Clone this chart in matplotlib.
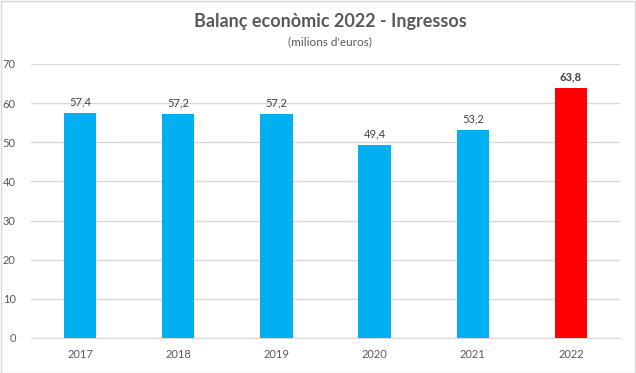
import matplotlib
matplotlib.use("Agg")
import matplotlib.pyplot as plt
from matplotlib.patches import Rectangle

plt.rcParams['font.family'] = ['Lato', 'DejaVu Sans']

# Dades
years = ['2017', '2018', '2019', '2020', '2021', '2022']
income = [57.4, 57.2, 57.2, 49.4, 53.2, 63.8]
colors = ['#00B0F0'] * 5 + ['#FF0000']

text_col = '#595959'
grid_col = '#D9D9D9'

fig = plt.figure(figsize=(6.36, 3.73), dpi=100)
ax = fig.add_axes([31 / 636, 1 - 338 / 373, 589 / 636, 274 / 373])

bars = ax.bar(years, income, width=0.33, color=colors, zorder=3)
ax.set_xlim(-0.5, len(years) - 0.5)
ax.set_ylim(0, 70)
ax.set_yticks(range(0, 71, 10))
ax.yaxis.grid(True, color=grid_col, linewidth=1, zorder=0)
for s in ['top', 'right', 'left']:
    ax.spines[s].set_visible(False)
ax.spines['bottom'].set_color(grid_col)
ax.tick_params(axis='both', length=0, labelsize=8, colors=text_col)
ax.tick_params(axis='x', pad=8)
ax.tick_params(axis='y', pad=11)

for i, (b, v) in enumerate(zip(bars, income)):
    ax.annotate(f'{v:.1f}'.replace('.', ','), (b.get_x() + b.get_width() / 2, v),
                xytext=(0, 4), textcoords='offset points', ha='center', va='bottom',
                fontsize=8, color='#404040',
                fontweight='bold' if i == len(income) - 1 else 'normal')

fig.text(330 / 636, 1 - 22 / 373, 'Balanç econòmic 2022 - Ingressos', ha='center', va='center',
         fontsize=13, fontweight='bold', color=text_col)
fig.text(330 / 636, 1 - 42 / 373, "(milions d'euros)", ha='center', va='center',
         fontsize=8.5, color=text_col)

# marc exterior
fig.patches.append(Rectangle((0.5 / 636, 0.5 / 373), 634 / 636, 372 / 373,
                             transform=fig.transFigure, fill=False,
                             edgecolor=grid_col, linewidth=1))

fig.savefig('out.png', dpi=100)
